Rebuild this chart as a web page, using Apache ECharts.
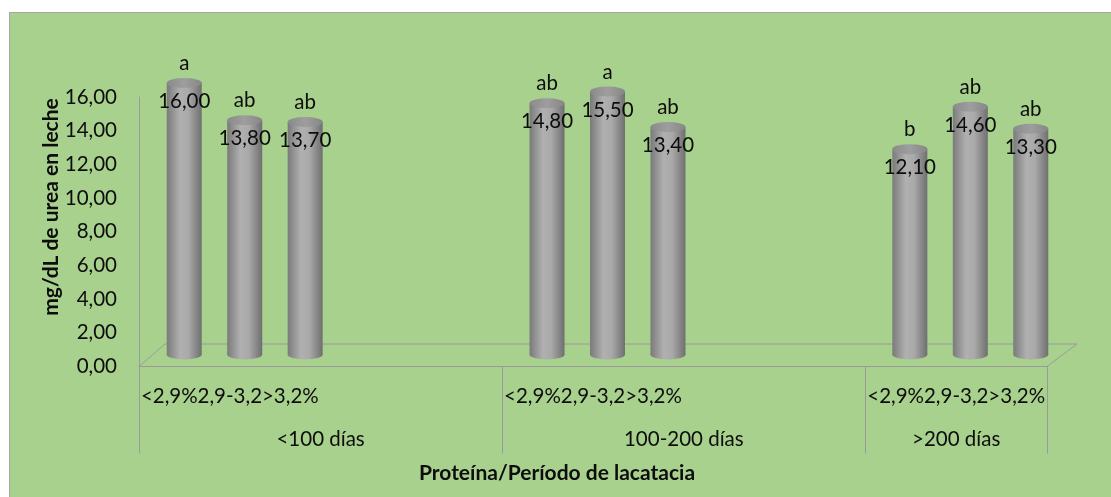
<!DOCTYPE html>
<html>
<head>
<meta charset="utf-8">
<script src="https://cdn.jsdelivr.net/npm/echarts@6/dist/echarts.min.js"></script>
<style>
  html, body { margin: 0; padding: 0; background: #ffffff; }
  #frame {
    position: absolute; left: 9px; top: 12px; width: 1110px; height: 490px;
    background: #a9d18e; border-left: 1px solid #a6a6a6; border-top: 1px solid #a6a6a6;
  }
  #chart { position: absolute; left: 0; top: 0; width: 1111px; height: 497px; }
</style>
</head>
<body>
<div id="frame"></div>
<div id="chart"></div>
<script>
// Urea in milk (mg/dL) by protein level within each lactation period
const protein = ['<2,9%', '2,9-3,2', '>3,2%'];
const periods = ['<100 días', '100-200 días', '>200 días'];
const ureaLt100 = [16.00, 13.80, 13.70];
const urea100to200 = [14.80, 15.50, 13.40];
const ureaGt200 = [12.10, 14.60, 13.30];
const lettersLt100 = ['a', 'ab', 'ab'];
const letters100to200 = ['ab', 'a', 'ab'];
const lettersGt200 = ['b', 'ab', 'ab'];
// empty category slots that follow each period on the axis
const gapSlots = [3, 3, 0];

const ureaByPeriod = [ureaLt100, urea100to200, ureaGt200];
const lettersByPeriod = [lettersLt100, letters100to200, lettersGt200];

const slotNames = [], slotValues = [], slotLetters = [];
const groupStart = [], groupEnd = [];
periods.forEach((p, g) => {
  groupStart.push(slotNames.length);
  protein.forEach((q, i) => {
    slotNames.push(q);
    slotValues.push(ureaByPeriod[g][i]);
    slotLetters.push(lettersByPeriod[g][i]);
  });
  for (let k = 0; k < gapSlots[g]; k++) {
    slotNames.push('');
    slotValues.push('-');
    slotLetters.push('');
  }
  groupEnd.push(slotNames.length);
});
const nSlots = slotNames.length;
const groupMid = groupStart.map((s, g) => (s + groupEnd[g]) / 2);
const groupEdges = groupStart.concat([nSlots]);

const fmt = v => Number(v).toFixed(2).replace('.', ',');
const FONT = 'Lato';
const FS = 20.5;
const TXT = '#0d0d0d';
const LINE = '#9a9a9a';

// front plane (axes) and the plane the cylinders stand in (mid depth of the floor)
const front = { left: 139, right: 1047, top: 97, bottom: 366.5 };
const mid = { left: 154, right: 1061, top: 49, bottom: 354.5 };
const back = { left: 165, right: 1077, bottom: 344 };

const bodyGradient = new echarts.graphic.LinearGradient(0, 0, 1, 0, [
  { offset: 0, color: '#7a7a7a' },
  { offset: 0.38, color: '#b0b0b0' },
  { offset: 0.62, color: '#a9a9a9' },
  { offset: 1, color: '#6f6f6f' }
]);
const topGradient = new echarts.graphic.LinearGradient(0, 0, 1, 0, [
  { offset: 0, color: '#8a8a8a' },
  { offset: 0.5, color: '#9e9e9e' },
  { offset: 1, color: '#868686' }
]);

const chart = echarts.init(document.getElementById('chart'), null, { renderer: 'canvas' });

chart.setOption({
  backgroundColor: 'transparent',
  animation: false,
  textStyle: { fontFamily: FONT },
  grid: [
    { left: front.left, right: 1111 - front.right, top: front.top, bottom: 497 - front.bottom },
    { left: mid.left, right: 1111 - mid.right, top: mid.top, bottom: 497 - mid.bottom }
  ],
  xAxis: [
    {
      type: 'category', gridIndex: 0, data: slotNames, boundaryGap: true,
      axisLine: { show: true, lineStyle: { color: LINE, width: 1 } },
      axisTick: { show: false },
      axisLabel: { interval: 0, margin: 19, fontSize: FS, color: TXT, fontFamily: FONT }
    },
    {
      type: 'value', gridIndex: 0, min: 0, max: nSlots, position: 'bottom',
      splitLine: { show: false },
      axisLine: { show: false },
      axisTick: { show: true, inside: false, length: 87, customValues: groupEdges,
        lineStyle: { color: LINE, width: 1 } },
      axisLabel: {
        show: true, margin: 62, fontSize: FS, color: TXT, fontFamily: FONT,
        customValues: groupMid,
        formatter: v => { const g = groupMid.indexOf(v); return g >= 0 ? periods[g] : ''; }
      }
    },
    {
      type: 'category', gridIndex: 1, data: slotNames, boundaryGap: true,
      axisLine: { show: false }, axisTick: { show: false }, axisLabel: { show: false }
    }
  ],
  yAxis: [
    {
      type: 'value', gridIndex: 0, min: 0, max: 16, interval: 2,
      splitLine: { show: false },
      axisLine: { show: true, lineStyle: { color: LINE, width: 1 } },
      axisTick: { show: false },
      axisLabel: { margin: 22, fontSize: FS, color: TXT, fontFamily: FONT, formatter: v => fmt(v) }
    },
    {
      type: 'value', gridIndex: 1, min: 0, max: 18,
      show: false, splitLine: { show: false }
    }
  ],
  series: [
    {
      // cylinder bottoms
      type: 'pictorialBar', xAxisIndex: 2, yAxisIndex: 1,
      data: slotValues, symbol: 'circle', symbolSize: [35, 10], symbolOffset: [0, '50%'],
      itemStyle: { color: bodyGradient }, z: 2, silent: true
    },
    {
      // cylinder bodies with value labels
      type: 'bar', xAxisIndex: 2, yAxisIndex: 1,
      data: slotValues, barWidth: 35,
      itemStyle: { color: bodyGradient },
      label: {
        show: true, position: 'insideTop', distance: 8,
        fontSize: FS, color: TXT, fontFamily: FONT,
        formatter: p => (p.value === '-' || p.value == null) ? '' : fmt(p.value)
      },
      z: 3
    },
    {
      // cylinder tops with significance letters
      type: 'pictorialBar', xAxisIndex: 2, yAxisIndex: 1,
      data: slotValues, symbol: 'circle', symbolSize: [35, 10],
      symbolPosition: 'end', symbolOffset: [0, '-50%'],
      itemStyle: { color: topGradient },
      label: {
        show: true, position: 'top', distance: 4,
        fontSize: FS, color: TXT, fontFamily: FONT,
        formatter: p => slotLetters[p.dataIndex] || ''
      },
      z: 4
    }
  ],
  graphic: [
    {
      // floor of the 3-D plot: left side, back edge, right side
      type: 'polyline', silent: true, z: 1,
      shape: { points: [[front.left, front.bottom], [back.left, back.bottom],
                        [back.right, back.bottom], [front.right, front.bottom]] },
      style: { stroke: LINE, lineWidth: 1, fill: null }
    },
    {
      type: 'text', x: 51, y: 207, rotation: Math.PI / 2,
      style: { text: 'mg/dL de urea en leche', font: 'bold 21px ' + FONT, fill: TXT,
               textAlign: 'center', textVerticalAlign: 'middle' }
    },
    {
      type: 'text', x: 557, y: 473,
      style: { text: 'Proteína/Período de lacatacia', font: 'bold 21px ' + FONT, fill: TXT,
               textAlign: 'center', textVerticalAlign: 'middle' }
    }
  ]
});
</script>
</body>
</html>
